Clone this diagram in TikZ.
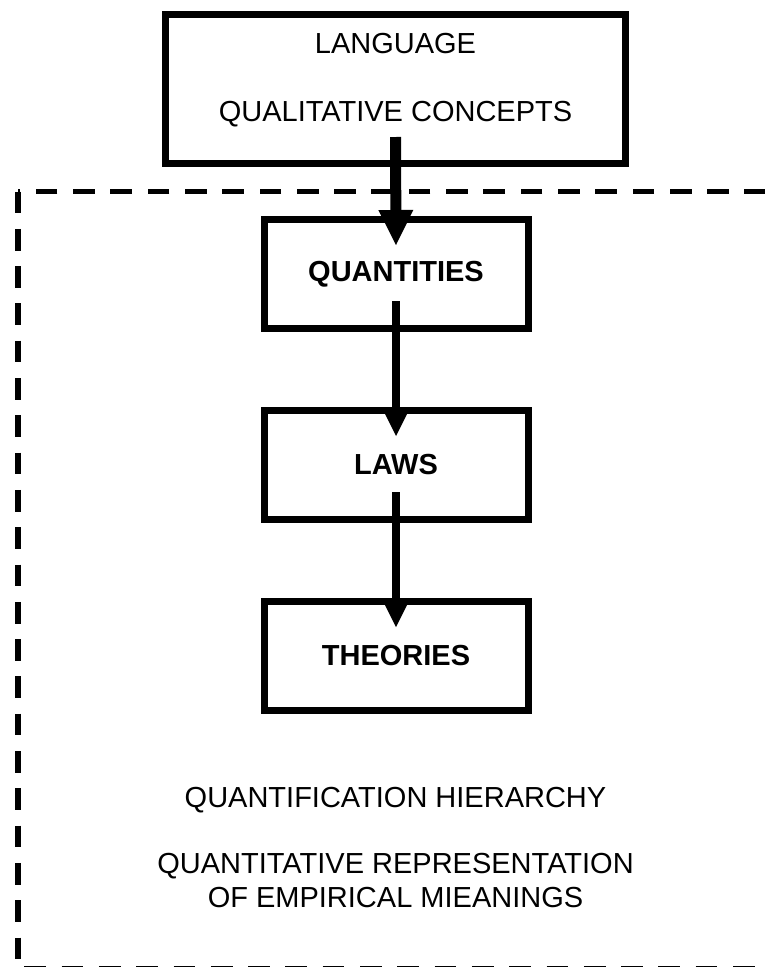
\documentclass[tikz,border=0pt]{standalone}
\usepackage{fontspec}
\setmainfont{Liberation Sans}
\usetikzlibrary{arrows.meta,calc}
\begin{document}
\begin{tikzpicture}[x=1pt,y=-1pt,
  box/.style={draw, line width=7pt, minimum width=264pt, minimum height=108.5pt, inner sep=0pt, outer sep=0pt,
    font=\fontsize{29pt}{34pt}\selectfont\bfseries},
  txt/.style={font=\fontsize{29pt}{34pt}\selectfont, inner sep=0pt, anchor=base},
  conn/.style={line width=7.5pt, -{Triangle[width=25pt,length=25pt,line width=0pt]}},
  bigconn/.style={line width=11pt, -{Triangle[width=35pt,length=35pt,line width=0pt]}},
  frame/.style={line width=5.5pt, dash pattern=on 21.7pt off 15.6pt}
]
\useasboundingbox (0,0) rectangle (765,967);
\clip (0,0) rectangle (765,967);
\draw[frame] (18,191.5) -- (18,968.5) -- (790,968.5) -- (790,191.5) -- cycle;

\node[box, minimum width=460pt, minimum height=149pt] (lang) at (395.5,89) {};
\node[txt] (l1) at (395.5,53) {LANGUAGE};
\node[txt] (l2) at (395.5,121) {QUALITATIVE CONCEPTS};

\node[box] (qty) at (396,273.75) {QUANTITIES};
\node[box] (laws) at (396,464.75) {LAWS};
\node[box, minimum height=109pt] (theo) at (396,655.5) {THEORIES};

\draw[bigconn] ($(lang.south)+(0,-26.5)$) -- ($(qty.north)+(0,25.5)$);
\draw[conn] ($(qty.south)+(0,-27)$) -- ($(laws.north)+(0,25.5)$);
\draw[conn] ($(laws.south)+(0,-27)$) -- ($(theo.north)+(0,26)$);

\node[txt] (h1) at (395.5,807) {QUANTIFICATION HIERARCHY};
\node[txt] (h2) at (395.5,873) {QUANTITATIVE REPRESENTATION};
\node[txt] (h3) at (395.5,907) {OF EMPIRICAL MIEANINGS};
\end{tikzpicture}
\end{document}
